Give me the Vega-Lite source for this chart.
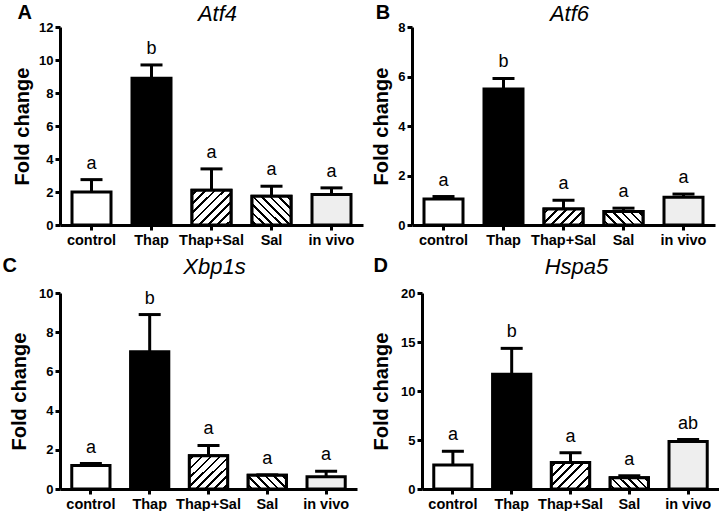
{
  "$schema": "https://vega.github.io/schema/vega-lite/v6.json",
  "padding": {"left": 2, "top": 3, "right": 0, "bottom": 0},
  "datasets": {
    "d": [
      {"panel": "A", "treatment": "control", "mean": 2.0, "err": 2.75, "letter": "a"},
      {"panel": "A", "treatment": "Thap", "mean": 8.9, "err": 9.7, "letter": "b"},
      {"panel": "A", "treatment": "Thap+Sal", "mean": 2.1, "err": 3.4, "letter": "a"},
      {"panel": "A", "treatment": "Sal", "mean": 1.75, "err": 2.35, "letter": "a"},
      {"panel": "A", "treatment": "in vivo", "mean": 1.85, "err": 2.25, "letter": "a"},
      {"panel": "B", "treatment": "control", "mean": 1.05, "err": 1.15, "letter": "a"},
      {"panel": "B", "treatment": "Thap", "mean": 5.5, "err": 5.92, "letter": "b"},
      {"panel": "B", "treatment": "Thap+Sal", "mean": 0.65, "err": 1.0, "letter": "a"},
      {"panel": "B", "treatment": "Sal", "mean": 0.55, "err": 0.68, "letter": "a"},
      {"panel": "B", "treatment": "in vivo", "mean": 1.12, "err": 1.25, "letter": "a"},
      {"panel": "C", "treatment": "control", "mean": 1.2, "err": 1.3, "letter": "a"},
      {"panel": "C", "treatment": "Thap", "mean": 7.0, "err": 8.9, "letter": "b"},
      {"panel": "C", "treatment": "Thap+Sal", "mean": 1.7, "err": 2.22, "letter": "a"},
      {"panel": "C", "treatment": "Sal", "mean": 0.7, "err": 0.72, "letter": "a"},
      {"panel": "C", "treatment": "in vivo", "mean": 0.62, "err": 0.9, "letter": "a"},
      {"panel": "D", "treatment": "control", "mean": 2.45, "err": 3.85, "letter": "a"},
      {"panel": "D", "treatment": "Thap", "mean": 11.7, "err": 14.35, "letter": "b"},
      {"panel": "D", "treatment": "Thap+Sal", "mean": 2.7, "err": 3.7, "letter": "a"},
      {"panel": "D", "treatment": "Sal", "mean": 1.15, "err": 1.35, "letter": "a"},
      {"panel": "D", "treatment": "in vivo", "mean": 4.85, "err": 5.05, "letter": "ab"}
    ]
  },
  "resolve": {"scale": {"y": "independent"}},
  "columns": 2,
  "align": "none",
  "spacing": {"row": 9, "column": 8},
  "concat": [
    {
      "title": {"text": "A", "anchor": "start", "fontSize": 20, "fontWeight": "bold", "dy": 20, "dx": 5, "offset": 0},
      "vconcat": [
        {
          "width": 303, "height": 198,
          "data": {"name": "d"},
          "transform": [{"filter": "datum.panel === 'A'"}],
          "title": {"text": "Atf4", "fontStyle": "italic", "fontSize": 22, "fontWeight": "normal", "anchor": "middle", "frame": "group", "dx": 6, "offset": -5},
          "encoding": {
            "x": {"field": "treatment", "type": "nominal", "sort": ["control", "Thap", "Thap+Sal", "Sal", "in vivo"], "scale": {"paddingInner": 0.35, "paddingOuter": 0.2}, "axis": {"title": null, "labelAngle": 0}}
          },
          "layer": [
            {"mark": {"type": "bar", "stroke": "black", "strokeWidth": 3}, "encoding": {"y": {"field": "mean", "type": "quantitative", "scale": {"domain": [0, 12], "nice": false}, "axis": {"title": "Fold change", "values": [0, 2, 4, 6, 8, 10, 12], "tickCount": 20, "format": "d", "titlePadding": 6}}, "fill": {"field": "treatment", "type": "nominal", "scale": {"domain": ["control", "Thap", "Thap+Sal", "Sal", "in vivo"], "range": ["#ffffff", "#000000", "#ffffff", "#ffffff", "#eeeeee"]}, "legend": null}}},
            {"transform": [{"filter": "datum.treatment === 'Thap+Sal'"}], "mark": {"type": "bar", "stroke": "black", "strokeWidth": 3, "fill": {"gradient": "linear", "x1": 0, "y1": 0, "x2": 1.053, "y2": 0.94, "stops": [
              {"offset":0.0438,"color":"#fff"},{"offset":0.0438,"color":"#000"},{"offset":0.0813,"color":"#000"},{"offset":0.0813,"color":"#fff"},
              {"offset":0.1688,"color":"#fff"},{"offset":0.1688,"color":"#000"},{"offset":0.2063,"color":"#000"},{"offset":0.2063,"color":"#fff"},
              {"offset":0.2938,"color":"#fff"},{"offset":0.2938,"color":"#000"},{"offset":0.3313,"color":"#000"},{"offset":0.3313,"color":"#fff"},
              {"offset":0.4188,"color":"#fff"},{"offset":0.4188,"color":"#000"},{"offset":0.4563,"color":"#000"},{"offset":0.4563,"color":"#fff"},
              {"offset":0.5438,"color":"#fff"},{"offset":0.5438,"color":"#000"},{"offset":0.5813,"color":"#000"},{"offset":0.5813,"color":"#fff"},
              {"offset":0.6688,"color":"#fff"},{"offset":0.6688,"color":"#000"},{"offset":0.7063,"color":"#000"},{"offset":0.7063,"color":"#fff"},
              {"offset":0.7938,"color":"#fff"},{"offset":0.7938,"color":"#000"},{"offset":0.8313,"color":"#000"},{"offset":0.8313,"color":"#fff"},
              {"offset":0.9188,"color":"#fff"},{"offset":0.9188,"color":"#000"},{"offset":0.9563,"color":"#000"},{"offset":0.9563,"color":"#fff"}]}}, "encoding": {"y": {"field": "mean", "type": "quantitative"}}},
            {"transform": [{"filter": "datum.treatment === 'Sal'"}], "mark": {"type": "bar", "stroke": "black", "strokeWidth": 3, "fill": {"gradient": "linear", "x1": 0, "y1": 1, "x2": 1.123, "y2": 0.165, "stops": [
              {"offset":0.0438,"color":"#fff"},{"offset":0.0438,"color":"#000"},{"offset":0.0813,"color":"#000"},{"offset":0.0813,"color":"#fff"},
              {"offset":0.1688,"color":"#fff"},{"offset":0.1688,"color":"#000"},{"offset":0.2063,"color":"#000"},{"offset":0.2063,"color":"#fff"},
              {"offset":0.2938,"color":"#fff"},{"offset":0.2938,"color":"#000"},{"offset":0.3313,"color":"#000"},{"offset":0.3313,"color":"#fff"},
              {"offset":0.4188,"color":"#fff"},{"offset":0.4188,"color":"#000"},{"offset":0.4563,"color":"#000"},{"offset":0.4563,"color":"#fff"},
              {"offset":0.5438,"color":"#fff"},{"offset":0.5438,"color":"#000"},{"offset":0.5813,"color":"#000"},{"offset":0.5813,"color":"#fff"},
              {"offset":0.6688,"color":"#fff"},{"offset":0.6688,"color":"#000"},{"offset":0.7063,"color":"#000"},{"offset":0.7063,"color":"#fff"},
              {"offset":0.7938,"color":"#fff"},{"offset":0.7938,"color":"#000"},{"offset":0.8313,"color":"#000"},{"offset":0.8313,"color":"#fff"},
              {"offset":0.9188,"color":"#fff"},{"offset":0.9188,"color":"#000"},{"offset":0.9563,"color":"#000"},{"offset":0.9563,"color":"#fff"}]}}, "encoding": {"y": {"field": "mean", "type": "quantitative"}}},
            {"mark": {"type": "rule", "strokeWidth": 3, "color": "black"}, "encoding": {"y": {"field": "mean", "type": "quantitative"}, "y2": {"field": "err"}}},
            {"mark": {"type": "tick", "orient": "horizontal", "thickness": 3, "size": 22, "color": "black", "opacity": 1}, "encoding": {"y": {"field": "err", "type": "quantitative"}}},
            {"mark": {"type": "text", "fontSize": 18, "baseline": "alphabetic", "dy": -11, "color": "black"}, "encoding": {"y": {"field": "err", "type": "quantitative"}, "text": {"field": "letter"}}}
          ]
        }
      ]
    },
    {
      "title": {"text": "B", "anchor": "start", "fontSize": 20, "fontWeight": "bold", "dy": 20, "dx": 4, "offset": 0},
      "vconcat": [
        {
          "width": 303, "height": 198,
          "data": {"name": "d"},
          "transform": [{"filter": "datum.panel === 'B'"}],
          "title": {"text": "Atf6", "fontStyle": "italic", "fontSize": 22, "fontWeight": "normal", "anchor": "middle", "frame": "group", "dx": 6, "offset": -5},
          "encoding": {
            "x": {"field": "treatment", "type": "nominal", "sort": ["control", "Thap", "Thap+Sal", "Sal", "in vivo"], "scale": {"paddingInner": 0.35, "paddingOuter": 0.2}, "axis": {"title": null, "labelAngle": 0}}
          },
          "layer": [
            {"mark": {"type": "bar", "stroke": "black", "strokeWidth": 3}, "encoding": {"y": {"field": "mean", "type": "quantitative", "scale": {"domain": [0, 8], "nice": false}, "axis": {"title": "Fold change", "values": [0, 2, 4, 6, 8], "tickCount": 20, "format": "d", "titlePadding": 6}}, "fill": {"field": "treatment", "type": "nominal", "scale": {"domain": ["control", "Thap", "Thap+Sal", "Sal", "in vivo"], "range": ["#ffffff", "#000000", "#ffffff", "#ffffff", "#eeeeee"]}, "legend": null}}},
            {"transform": [{"filter": "datum.treatment === 'Thap+Sal'"}], "mark": {"type": "bar", "stroke": "black", "strokeWidth": 3, "fill": {"gradient": "linear", "x1": 0, "y1": 0, "x2": 1.207, "y2": 0.498, "stops": [
              {"offset":0.0583,"color":"#fff"},{"offset":0.0583,"color":"#000"},{"offset":0.1083,"color":"#000"},{"offset":0.1083,"color":"#fff"},
              {"offset":0.225,"color":"#fff"},{"offset":0.225,"color":"#000"},{"offset":0.275,"color":"#000"},{"offset":0.275,"color":"#fff"},
              {"offset":0.3917,"color":"#fff"},{"offset":0.3917,"color":"#000"},{"offset":0.4417,"color":"#000"},{"offset":0.4417,"color":"#fff"},
              {"offset":0.5583,"color":"#fff"},{"offset":0.5583,"color":"#000"},{"offset":0.6083,"color":"#000"},{"offset":0.6083,"color":"#fff"},
              {"offset":0.725,"color":"#fff"},{"offset":0.725,"color":"#000"},{"offset":0.775,"color":"#000"},{"offset":0.775,"color":"#fff"},
              {"offset":0.8917,"color":"#fff"},{"offset":0.8917,"color":"#000"},{"offset":0.9417,"color":"#000"},{"offset":0.9417,"color":"#fff"}]}}, "encoding": {"y": {"field": "mean", "type": "quantitative"}}},
            {"transform": [{"filter": "datum.treatment === 'Sal'"}], "mark": {"type": "bar", "stroke": "black", "strokeWidth": 3, "fill": {"gradient": "linear", "x1": 0, "y1": 1, "x2": 1.202, "y2": 0.581, "stops": [
              {"offset":0.0583,"color":"#fff"},{"offset":0.0583,"color":"#000"},{"offset":0.1083,"color":"#000"},{"offset":0.1083,"color":"#fff"},
              {"offset":0.225,"color":"#fff"},{"offset":0.225,"color":"#000"},{"offset":0.275,"color":"#000"},{"offset":0.275,"color":"#fff"},
              {"offset":0.3917,"color":"#fff"},{"offset":0.3917,"color":"#000"},{"offset":0.4417,"color":"#000"},{"offset":0.4417,"color":"#fff"},
              {"offset":0.5583,"color":"#fff"},{"offset":0.5583,"color":"#000"},{"offset":0.6083,"color":"#000"},{"offset":0.6083,"color":"#fff"},
              {"offset":0.725,"color":"#fff"},{"offset":0.725,"color":"#000"},{"offset":0.775,"color":"#000"},{"offset":0.775,"color":"#fff"},
              {"offset":0.8917,"color":"#fff"},{"offset":0.8917,"color":"#000"},{"offset":0.9417,"color":"#000"},{"offset":0.9417,"color":"#fff"}]}}, "encoding": {"y": {"field": "mean", "type": "quantitative"}}},
            {"mark": {"type": "rule", "strokeWidth": 3, "color": "black"}, "encoding": {"y": {"field": "mean", "type": "quantitative"}, "y2": {"field": "err"}}},
            {"mark": {"type": "tick", "orient": "horizontal", "thickness": 3, "size": 22, "color": "black", "opacity": 1}, "encoding": {"y": {"field": "err", "type": "quantitative"}}},
            {"mark": {"type": "text", "fontSize": 18, "baseline": "alphabetic", "dy": -11, "color": "black"}, "encoding": {"y": {"field": "err", "type": "quantitative"}, "text": {"field": "letter"}}}
          ]
        }
      ]
    },
    {
      "title": {"text": "C", "anchor": "start", "fontSize": 20, "fontWeight": "bold", "dy": 20, "dx": -7, "offset": 0},
      "vconcat": [
        {
          "width": 297, "height": 196,
          "data": {"name": "d"},
          "transform": [{"filter": "datum.panel === 'C'"}],
          "title": {"text": "Xbp1s", "fontStyle": "italic", "fontSize": 22, "fontWeight": "normal", "anchor": "middle", "frame": "group", "dx": 6, "offset": 8},
          "encoding": {
            "x": {"field": "treatment", "type": "nominal", "sort": ["control", "Thap", "Thap+Sal", "Sal", "in vivo"], "scale": {"paddingInner": 0.35, "paddingOuter": 0.2}, "axis": {"title": null, "labelAngle": 0}}
          },
          "layer": [
            {"mark": {"type": "bar", "stroke": "black", "strokeWidth": 3}, "encoding": {"y": {"field": "mean", "type": "quantitative", "scale": {"domain": [0, 10], "nice": false}, "axis": {"title": "Fold change", "values": [0, 2, 4, 6, 8, 10], "tickCount": 20, "format": "d", "titlePadding": 9}}, "fill": {"field": "treatment", "type": "nominal", "scale": {"domain": ["control", "Thap", "Thap+Sal", "Sal", "in vivo"], "range": ["#ffffff", "#000000", "#ffffff", "#ffffff", "#eeeeee"]}, "legend": null}}},
            {"transform": [{"filter": "datum.treatment === 'Thap+Sal'"}], "mark": {"type": "bar", "stroke": "black", "strokeWidth": 3, "fill": {"gradient": "linear", "x1": 0, "y1": 0, "x2": 1.058, "y2": 0.934, "stops": [
              {"offset":0.0438,"color":"#fff"},{"offset":0.0438,"color":"#000"},{"offset":0.0813,"color":"#000"},{"offset":0.0813,"color":"#fff"},
              {"offset":0.1688,"color":"#fff"},{"offset":0.1688,"color":"#000"},{"offset":0.2063,"color":"#000"},{"offset":0.2063,"color":"#fff"},
              {"offset":0.2938,"color":"#fff"},{"offset":0.2938,"color":"#000"},{"offset":0.3313,"color":"#000"},{"offset":0.3313,"color":"#fff"},
              {"offset":0.4188,"color":"#fff"},{"offset":0.4188,"color":"#000"},{"offset":0.4563,"color":"#000"},{"offset":0.4563,"color":"#fff"},
              {"offset":0.5438,"color":"#fff"},{"offset":0.5438,"color":"#000"},{"offset":0.5813,"color":"#000"},{"offset":0.5813,"color":"#fff"},
              {"offset":0.6688,"color":"#fff"},{"offset":0.6688,"color":"#000"},{"offset":0.7063,"color":"#000"},{"offset":0.7063,"color":"#fff"},
              {"offset":0.7938,"color":"#fff"},{"offset":0.7938,"color":"#000"},{"offset":0.8313,"color":"#000"},{"offset":0.8313,"color":"#fff"},
              {"offset":0.9188,"color":"#fff"},{"offset":0.9188,"color":"#000"},{"offset":0.9563,"color":"#000"},{"offset":0.9563,"color":"#fff"}]}}, "encoding": {"y": {"field": "mean", "type": "quantitative"}}},
            {"transform": [{"filter": "datum.treatment === 'Sal'"}], "mark": {"type": "bar", "stroke": "black", "strokeWidth": 3, "fill": {"gradient": "linear", "x1": 0, "y1": 1, "x2": 1.205, "y2": 0.562, "stops": [
              {"offset":0.0583,"color":"#fff"},{"offset":0.0583,"color":"#000"},{"offset":0.1083,"color":"#000"},{"offset":0.1083,"color":"#fff"},
              {"offset":0.225,"color":"#fff"},{"offset":0.225,"color":"#000"},{"offset":0.275,"color":"#000"},{"offset":0.275,"color":"#fff"},
              {"offset":0.3917,"color":"#fff"},{"offset":0.3917,"color":"#000"},{"offset":0.4417,"color":"#000"},{"offset":0.4417,"color":"#fff"},
              {"offset":0.5583,"color":"#fff"},{"offset":0.5583,"color":"#000"},{"offset":0.6083,"color":"#000"},{"offset":0.6083,"color":"#fff"},
              {"offset":0.725,"color":"#fff"},{"offset":0.725,"color":"#000"},{"offset":0.775,"color":"#000"},{"offset":0.775,"color":"#fff"},
              {"offset":0.8917,"color":"#fff"},{"offset":0.8917,"color":"#000"},{"offset":0.9417,"color":"#000"},{"offset":0.9417,"color":"#fff"}]}}, "encoding": {"y": {"field": "mean", "type": "quantitative"}}},
            {"mark": {"type": "rule", "strokeWidth": 3, "color": "black"}, "encoding": {"y": {"field": "mean", "type": "quantitative"}, "y2": {"field": "err"}}},
            {"mark": {"type": "tick", "orient": "horizontal", "thickness": 3, "size": 22, "color": "black", "opacity": 1}, "encoding": {"y": {"field": "err", "type": "quantitative"}}},
            {"mark": {"type": "text", "fontSize": 18, "baseline": "alphabetic", "dy": -11, "color": "black"}, "encoding": {"y": {"field": "err", "type": "quantitative"}, "text": {"field": "letter"}}}
          ]
        }
      ]
    },
    {
      "title": {"text": "D", "anchor": "start", "fontSize": 20, "fontWeight": "bold", "dy": 20, "dx": 2, "offset": 0},
      "vconcat": [
        {
          "width": 297, "height": 196,
          "data": {"name": "d"},
          "transform": [{"filter": "datum.panel === 'D'"}],
          "title": {"text": "Hspa5", "fontStyle": "italic", "fontSize": 22, "fontWeight": "normal", "anchor": "middle", "frame": "group", "dx": 6, "offset": 8},
          "encoding": {
            "x": {"field": "treatment", "type": "nominal", "sort": ["control", "Thap", "Thap+Sal", "Sal", "in vivo"], "scale": {"paddingInner": 0.35, "paddingOuter": 0.2}, "axis": {"title": null, "labelAngle": 0}}
          },
          "layer": [
            {"mark": {"type": "bar", "stroke": "black", "strokeWidth": 3}, "encoding": {"y": {"field": "mean", "type": "quantitative", "scale": {"domain": [0, 20], "nice": false}, "axis": {"title": "Fold change", "values": [0, 5, 10, 15, 20], "tickCount": 20, "format": "d", "titlePadding": 9}}, "fill": {"field": "treatment", "type": "nominal", "scale": {"domain": ["control", "Thap", "Thap+Sal", "Sal", "in vivo"], "range": ["#ffffff", "#000000", "#ffffff", "#ffffff", "#eeeeee"]}, "legend": null}}},
            {"transform": [{"filter": "datum.treatment === 'Thap+Sal'"}], "mark": {"type": "bar", "stroke": "black", "strokeWidth": 3, "fill": {"gradient": "linear", "x1": 0, "y1": 0, "x2": 1.141, "y2": 0.798, "stops": [
              {"offset":0.05,"color":"#fff"},{"offset":0.05,"color":"#000"},{"offset":0.0929,"color":"#000"},{"offset":0.0929,"color":"#fff"},
              {"offset":0.1929,"color":"#fff"},{"offset":0.1929,"color":"#000"},{"offset":0.2357,"color":"#000"},{"offset":0.2357,"color":"#fff"},
              {"offset":0.3357,"color":"#fff"},{"offset":0.3357,"color":"#000"},{"offset":0.3786,"color":"#000"},{"offset":0.3786,"color":"#fff"},
              {"offset":0.4786,"color":"#fff"},{"offset":0.4786,"color":"#000"},{"offset":0.5214,"color":"#000"},{"offset":0.5214,"color":"#fff"},
              {"offset":0.6214,"color":"#fff"},{"offset":0.6214,"color":"#000"},{"offset":0.6643,"color":"#000"},{"offset":0.6643,"color":"#fff"},
              {"offset":0.7643,"color":"#fff"},{"offset":0.7643,"color":"#000"},{"offset":0.8071,"color":"#000"},{"offset":0.8071,"color":"#fff"},
              {"offset":0.9071,"color":"#fff"},{"offset":0.9071,"color":"#000"},{"offset":0.95,"color":"#000"},{"offset":0.95,"color":"#fff"}]}}, "encoding": {"y": {"field": "mean", "type": "quantitative"}}},
            {"transform": [{"filter": "datum.treatment === 'Sal'"}], "mark": {"type": "bar", "stroke": "black", "strokeWidth": 3, "fill": {"gradient": "linear", "x1": 0, "y1": 1, "x2": 1.192, "y2": 0.644, "stops": [
              {"offset":0.0583,"color":"#fff"},{"offset":0.0583,"color":"#000"},{"offset":0.1083,"color":"#000"},{"offset":0.1083,"color":"#fff"},
              {"offset":0.225,"color":"#fff"},{"offset":0.225,"color":"#000"},{"offset":0.275,"color":"#000"},{"offset":0.275,"color":"#fff"},
              {"offset":0.3917,"color":"#fff"},{"offset":0.3917,"color":"#000"},{"offset":0.4417,"color":"#000"},{"offset":0.4417,"color":"#fff"},
              {"offset":0.5583,"color":"#fff"},{"offset":0.5583,"color":"#000"},{"offset":0.6083,"color":"#000"},{"offset":0.6083,"color":"#fff"},
              {"offset":0.725,"color":"#fff"},{"offset":0.725,"color":"#000"},{"offset":0.775,"color":"#000"},{"offset":0.775,"color":"#fff"},
              {"offset":0.8917,"color":"#fff"},{"offset":0.8917,"color":"#000"},{"offset":0.9417,"color":"#000"},{"offset":0.9417,"color":"#fff"}]}}, "encoding": {"y": {"field": "mean", "type": "quantitative"}}},
            {"mark": {"type": "rule", "strokeWidth": 3, "color": "black"}, "encoding": {"y": {"field": "mean", "type": "quantitative"}, "y2": {"field": "err"}}},
            {"mark": {"type": "tick", "orient": "horizontal", "thickness": 3, "size": 22, "color": "black", "opacity": 1}, "encoding": {"y": {"field": "err", "type": "quantitative"}}},
            {"mark": {"type": "text", "fontSize": 18, "baseline": "alphabetic", "dy": -11, "color": "black"}, "encoding": {"y": {"field": "err", "type": "quantitative"}, "text": {"field": "letter"}}}
          ]
        }
      ]
    }
  ],
  "config": {
    "view": {"stroke": null},
    "font": "Liberation Sans",
    "title": {"color": "black", "font": "Liberation Sans"},
    "axis": {
      "domainColor": "black", "domainWidth": 3, "tickColor": "black", "tickWidth": 3, "tickSize": 5,
      "labelColor": "black", "labelFont": "Liberation Sans", "labelFontWeight": "bold", "labelFontSize": 13, "labelPadding": 2,
      "titleColor": "black", "titleFont": "Liberation Sans", "titleFontWeight": "bold", "titleFontSize": 20, "titlePadding": 6,
      "grid": false
    },
    "axisX": {"labelFontSize": 14.5, "labelPadding": 3},
    "axisY": {"labelFontSize": 13}
  }
}
